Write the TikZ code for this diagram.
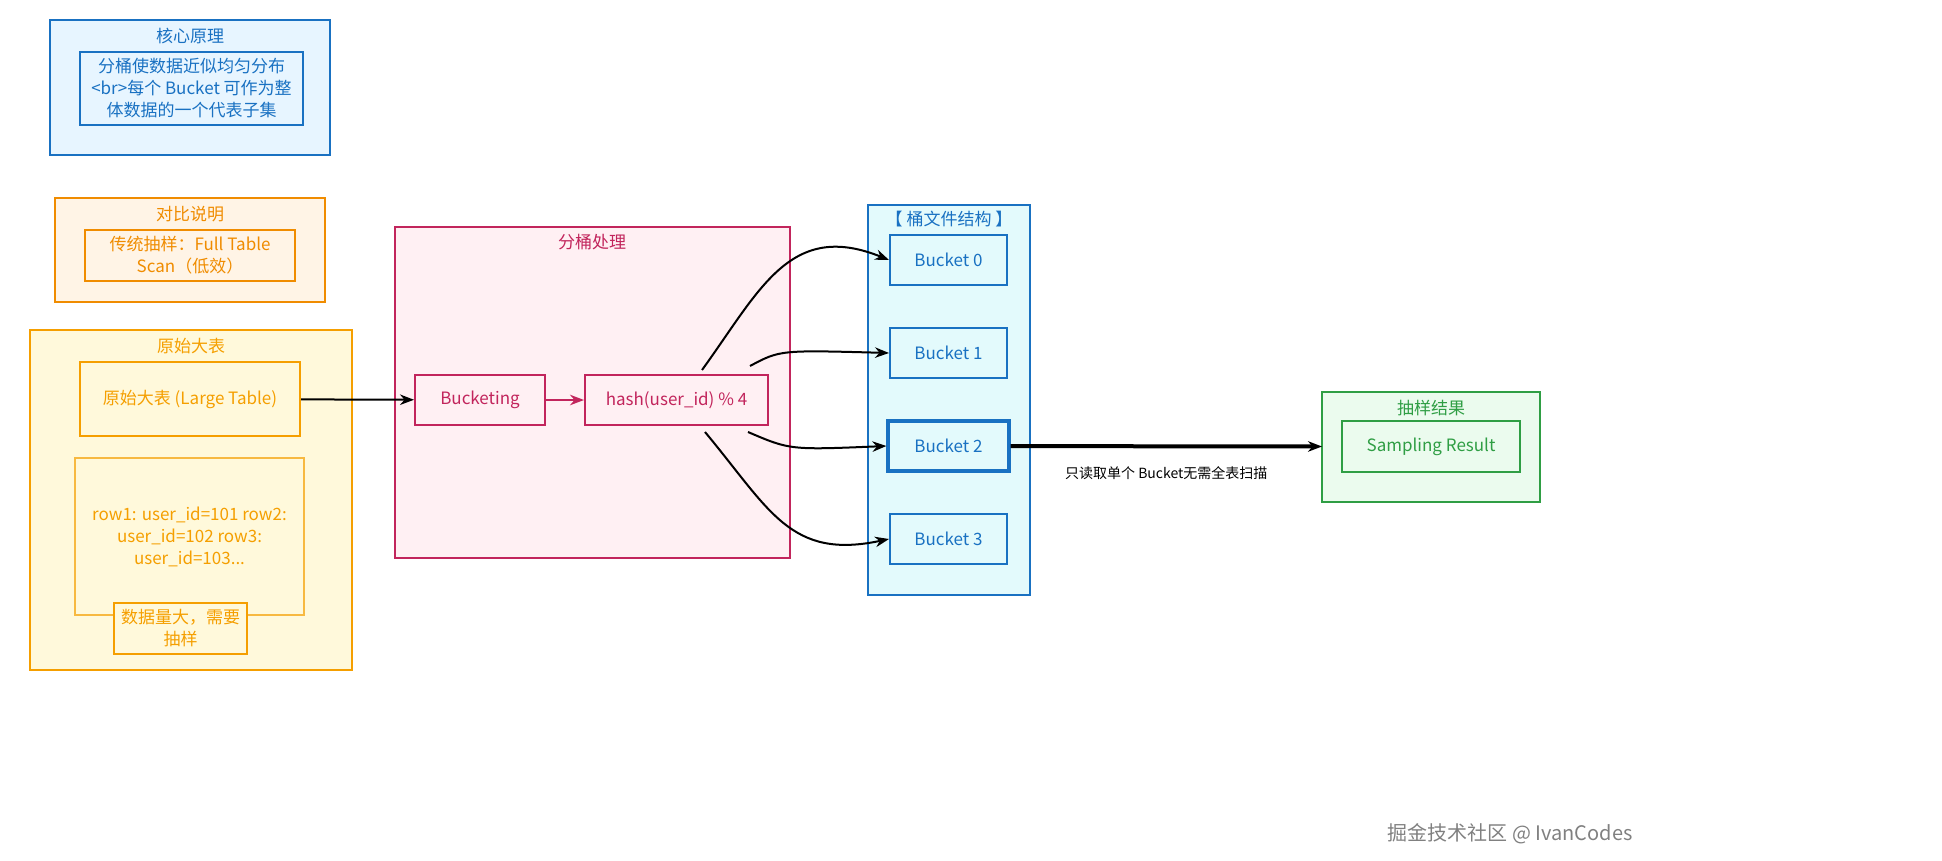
\documentclass[tikz,border=0pt]{standalone}
\usepackage{fontspec}
\setmainfont{Noto Sans CJK SC}
\usetikzlibrary{arrows.meta}
\definecolor{bB}{HTML}{1971C2}\definecolor{bF}{HTML}{E7F5FF}
\definecolor{oB}{HTML}{F08C00}\definecolor{oF}{HTML}{FFF4E6}
\definecolor{yB}{HTML}{F59F00}\definecolor{yF}{HTML}{FFF9DB}
\definecolor{rB}{HTML}{C2255C}\definecolor{rF}{HTML}{FFF0F3}
\definecolor{cF}{HTML}{E3FAFC}
\definecolor{gB}{HTML}{2F9E44}\definecolor{gF}{HTML}{EBFBEE}
\tikzset{
 box/.style={draw=#1,line width=1pt,font=\fontsize{8.5}{11}\selectfont,text=#1,align=center},
 arr/.style={-{Stealth[length=7pt]},line width=1pt,black},
}
\begin{document}
\begin{tikzpicture}[x=0.5pt,y=-0.5pt]
\useasboundingbox (0,0) rectangle (1942,861);
% groups
\draw[bB,fill=bF,line width=1pt] (50,20) rectangle (330,155);
\node[text=bB,font=\fontsize{8.5}{10}\selectfont] (t1) at (190,36) {核心原理};
\node[box=bB,minimum width=111.5pt,minimum height=36.5pt] (p1) at (191.5,88.5) {分桶使数据近似均匀分布\\<br>每个 Bucket 可作为整\\体数据的一个代表子集};
\draw[oB,fill=oF,line width=1pt] (55,198) rectangle (325,302);
\node[text=oB,font=\fontsize{8.5}{10}\selectfont] (t2) at (190,214) {对比说明};
\node[box=oB,minimum width=105pt,minimum height=25.5pt] (p2) at (190,255.5) {传统抽样：Full Table\\Scan（低效）};
\draw[yB,fill=yF,line width=1pt] (30,330) rectangle (352,670);
\node[text=yB,font=\fontsize{8.5}{10}\selectfont] (t3) at (191,346) {原始大表};
\node[box=yB,minimum width=110pt,minimum height=37pt] (lt) at (190,399) {原始大表 (Large Table)};
\node[box=yB,minimum width=114.5pt,minimum height=78.5pt,draw opacity=0.7] (rows) at (189.5,536.5) {row1: user\_id=101 row2:\\user\_id=102 row3:\\user\_id=103...};
\node[box=yB,fill=yF,minimum width=63.5pt,minimum height=25.5pt] (need) at (180.5,628.5) {数据量大，需要\\抽样};
\draw[rB,fill=rF,line width=1pt] (395,227) rectangle (790,558);
\node[text=rB,font=\fontsize{8.5}{10}\selectfont] (t4) at (592,242) {分桶处理};
\node[box=rB,minimum width=65pt,minimum height=25pt] (bk) at (480,400) {Bucketing};
\node[box=rB,minimum width=91.5pt,minimum height=25pt] (hs) at (676.5,400) {hash(user\_id) \% 4};
\draw[bB,fill=cF,line width=1pt] (868,205) rectangle (1030,595);
\node[text=bB,font=\fontsize{8.5}{10}\selectfont] (t5) at (949,219) {【 桶文件结构 】};
\node[box=bB,minimum width=58.5pt,minimum height=25pt] (b0) at (948.5,260) {Bucket 0};
\node[box=bB,minimum width=58.5pt,minimum height=25pt] (b1) at (948.5,353) {Bucket 1};
\node[box=bB,line width=1.6pt,minimum width=60.5pt,minimum height=25pt] (b2) at (948.5,446) {Bucket 2};
\node[box=bB,minimum width=58.5pt,minimum height=25pt] (b3) at (948.5,539) {Bucket 3};
\draw[gB,fill=gF,line width=1pt] (1322,392) rectangle (1540,502);
\node[text=gB,font=\fontsize{8.5}{10}\selectfont] (t6) at (1431,408) {抽样结果};
\node[box=gB,minimum width=89pt,minimum height=25.5pt] (sr) at (1431,446.5) {Sampling Result};
% arrows
\draw[arr] (lt) -- (bk);
\draw[arr,rB] (bk) -- (hs);
\coordinate (h0) at (702,370);\coordinate (h1) at (750,366);
\coordinate (h2) at (748,432);\coordinate (h3) at (705,432);
\draw[arr] (h0) .. controls (760,290) and (790,220) .. (b0.west);
\draw[arr] (h1) .. controls (780,350) .. (b1.west);
\draw[arr] (h2) .. controls (790,450) .. (b2.west);
\draw[arr] (h3) .. controls (770,510) and (790,560) .. (b3.west);
\draw[arr,line width=2pt] (b2) -- node[below=6pt,font=\fontsize{7}{9}\selectfont,black]{只读取单个 Bucket无需全表扫描} (sr.west -| 1322,0);
\node[text=gray,font=\fontsize{10}{12}\selectfont] (wm) at (1510,834) {掘金技术社区 @ IvanCodes};
\end{tikzpicture}
\end{document}
